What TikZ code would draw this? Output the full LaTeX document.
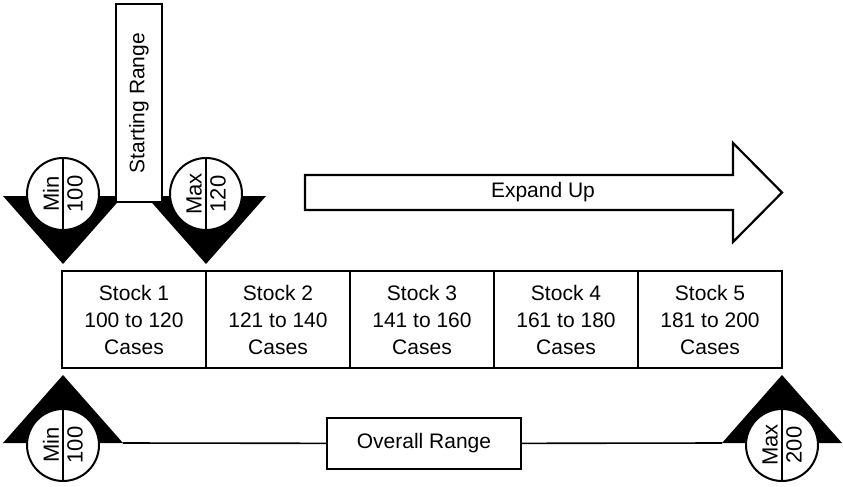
\documentclass[tikz,border=0pt]{standalone}
\usepackage{fontspec}
\setmainfont{Liberation Sans}
\usepackage{tikz}

\tikzset{
  stockbox/.style={draw, line width=2.2pt, fill=white, align=center,
    minimum width=144pt, minimum height=97pt, inner sep=0pt},
  labelbox/.style={draw, line width=2.2pt, fill=white, inner sep=0pt},
  marker/.style={circle, draw, line width=2pt, fill=white, minimum size=72pt, inner sep=0pt},
  mtext/.style={rotate=90, inner sep=1pt, font=\fontsize{22}{26}\selectfont}
}

\begin{document}
\begin{tikzpicture}[x=1pt, y=-1pt, font=\fontsize{21}{27}\selectfont]
\useasboundingbox (0,0) rectangle (843,487);

% min / max markers
\foreach \nm/\cx/\by/\dir/\lab/\val in {tmin/63/196/1/Min/100, tmax/206/196/1/Max/120, bmin/63/443/-1/Min/100, bmax/782/443/-1/Max/200}{
  \coordinate (\nm-l) at (\cx-60,\by);
  \coordinate (\nm-r) at (\cx+60,\by);
  \fill (\nm-l) -- (\nm-r) -- (\cx,\by+68*\dir) -- cycle;
  \node[marker] (\nm) at (\cx,\by-2*\dir) {};
  \draw[line width=2pt] (\nm.north) -- (\nm.south);
  \node[mtext, anchor=south] (\nm-lab) at ([xshift=-3pt]\nm.center) {\lab};
  \node[mtext, anchor=north] (\nm-val) at ([xshift=3pt]\nm.center) {\val};
}

\node[labelbox, rotate=90, minimum width=198pt, minimum height=46pt] (start) at (139,103) {Starting Range};

% expand arrow
\draw[line width=2.2pt, fill=white] (305,175) -- (733,175) -- (733,143) -- (782,192.5)
  -- (733,242) -- (733,210) -- (305,210) -- cycle;
\node (expand) at (543,192.5) {Expand Up};

% stock boxes
\foreach \i/\lo/\hi in {1/100/120, 2/121/140, 3/141/160, 4/161/180, 5/181/200}
  \node[stockbox] (s\i) at (62+144*\i-72, 319.5) {Stock \i\\\lo{} to \hi\\Cases};

% overall range
\node[labelbox, minimum width=194pt, minimum height=51pt] (overall) at (424,443.5) {Overall Range};
\draw[line width=1.6pt] (bmin-r) -- (overall);
\draw[line width=1.6pt] (overall) -- (bmax-l);
\end{tikzpicture}
\end{document}
